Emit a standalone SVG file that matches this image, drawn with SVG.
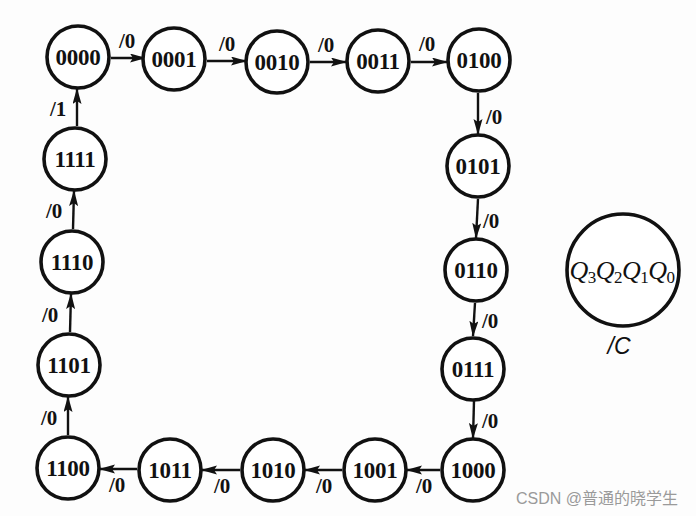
<svg xmlns="http://www.w3.org/2000/svg" width="696" height="516" viewBox="0 0 696 516">
<style>
.n circle{fill:#fff;stroke:#111;stroke-width:3.6}
.n text{font-family:"Liberation Serif",serif;font-weight:bold;font-size:23px;fill:#111;text-anchor:middle;letter-spacing:-0.3px}
.e path{fill:none;stroke:#111;stroke-width:2.4}
.l{font-family:"Liberation Serif",serif;font-weight:bold;font-size:21px;fill:#111}
</style>
<defs>
<marker id="ah" markerUnits="userSpaceOnUse" markerWidth="16" markerHeight="10" refX="15" refY="4.5" orient="auto">
<path d="M0,0 L16,4.5 L0,9 L3,4.5 z" fill="#111"/>
</marker>
</defs>
<rect width="696" height="516" fill="#fdfdfd"/>
<g class="e" id="connectors">
<path d="M111,58 L145,58" marker-end="url(#ah)"/>
<path d="M207,61 L246,61" marker-end="url(#ah)"/>
<path d="M310,62 L346,62" marker-end="url(#ah)"/>
<path d="M411,62 L447,62" marker-end="url(#ah)"/>
<path d="M478,93 L478,134" marker-end="url(#ah)"/>
<path d="M478,199 L476,238" marker-end="url(#ah)"/>
<path d="M475,303 L473,336" marker-end="url(#ah)"/>
<path d="M474,401 L473,438" marker-end="url(#ah)"/>
<path d="M440,470 L407,470" marker-end="url(#ah)"/>
<path d="M342,470 L305,470" marker-end="url(#ah)"/>
<path d="M240,470 L202,470" marker-end="url(#ah)"/>
<path d="M137,469 L100,469" marker-end="url(#ah)"/>
<path d="M68,435 L68,397" marker-end="url(#ah)"/>
<path d="M70,332 L71,294" marker-end="url(#ah)"/>
<path d="M73,229 L74,191" marker-end="url(#ah)"/>
<path d="M77,126 L77,89" marker-end="url(#ah)"/>
<text class="l" x="119" y="48">/0</text>
<text class="l" x="219" y="51">/0</text>
<text class="l" x="318" y="52">/0</text>
<text class="l" x="419" y="51">/0</text>
<text class="l" x="486" y="124">/0</text>
<text class="l" x="483" y="228">/0</text>
<text class="l" x="482" y="328">/0</text>
<text class="l" x="482" y="428">/0</text>
<text class="l" x="416" y="493">/0</text>
<text class="l" x="316" y="493">/0</text>
<text class="l" x="214" y="493">/0</text>
<text class="l" x="109" y="492">/0</text>
<text class="l" x="41" y="425">/0</text>
<text class="l" x="42" y="322">/0</text>
<text class="l" x="46" y="218">/0</text>
<text class="l" x="50" y="116">/1</text>
</g>
<g class="n" id="s0000"><circle cx="78" cy="57" r="31"/><text x="78" y="65">0000</text></g>
<g class="n" id="s0001"><circle cx="174" cy="59" r="31"/><text x="174" y="67">0001</text></g>
<g class="n" id="s0010"><circle cx="277" cy="62" r="31"/><text x="277" y="70">0010</text></g>
<g class="n" id="s0011"><circle cx="378" cy="61" r="31"/><text x="378" y="69">0011</text></g>
<g class="n" id="s0100"><circle cx="479" cy="60" r="31"/><text x="479" y="68">0100</text></g>
<g class="n" id="s0101"><circle cx="478" cy="166" r="31"/><text x="478" y="174">0101</text></g>
<g class="n" id="s0110"><circle cx="476" cy="270" r="31"/><text x="476" y="278">0110</text></g>
<g class="n" id="s0111"><circle cx="473" cy="369" r="31"/><text x="473" y="377">0111</text></g>
<g class="n" id="s1000"><circle cx="473" cy="470" r="31"/><text x="473" y="478">1000</text></g>
<g class="n" id="s1001"><circle cx="375" cy="470" r="31"/><text x="375" y="478">1001</text></g>
<g class="n" id="s1010"><circle cx="273" cy="470" r="31"/><text x="273" y="478">1010</text></g>
<g class="n" id="s1011"><circle cx="170" cy="470" r="31"/><text x="170" y="478">1011</text></g>
<g class="n" id="s1100"><circle cx="68" cy="468" r="31"/><text x="68" y="476">1100</text></g>
<g class="n" id="s1101"><circle cx="69" cy="365" r="31"/><text x="69" y="373">1101</text></g>
<g class="n" id="s1110"><circle cx="72" cy="262" r="31"/><text x="72" y="270">1110</text></g>
<g class="n" id="s1111"><circle cx="75" cy="159" r="31"/><text x="75" y="167">1111</text></g>
<g id="legend">
<circle cx="623" cy="270" r="56" fill="#fff" stroke="#111" stroke-width="3.6"/>
<text x="622" y="279" text-anchor="middle" font-family="Liberation Serif,serif" font-style="italic" font-size="26" fill="#111" letter-spacing="-0.5">Q<tspan font-size="17" dy="4" font-style="normal">3</tspan><tspan dy="-4">Q</tspan><tspan font-size="17" dy="4" font-style="normal">2</tspan><tspan dy="-4">Q</tspan><tspan font-size="17" dy="4" font-style="normal">1</tspan><tspan dy="-4">Q</tspan><tspan font-size="17" dy="4" font-style="normal">0</tspan></text>
<text x="619" y="354" text-anchor="middle" font-family="Liberation Sans,sans-serif" font-style="italic" font-size="23" fill="#111">/C</text>
</g>
<text x="678" y="504" text-anchor="end" font-family="Liberation Sans,Noto Sans CJK SC,sans-serif" font-size="16" fill="#9a9a9a">CSDN @普通的晓学生</text>
</svg>
